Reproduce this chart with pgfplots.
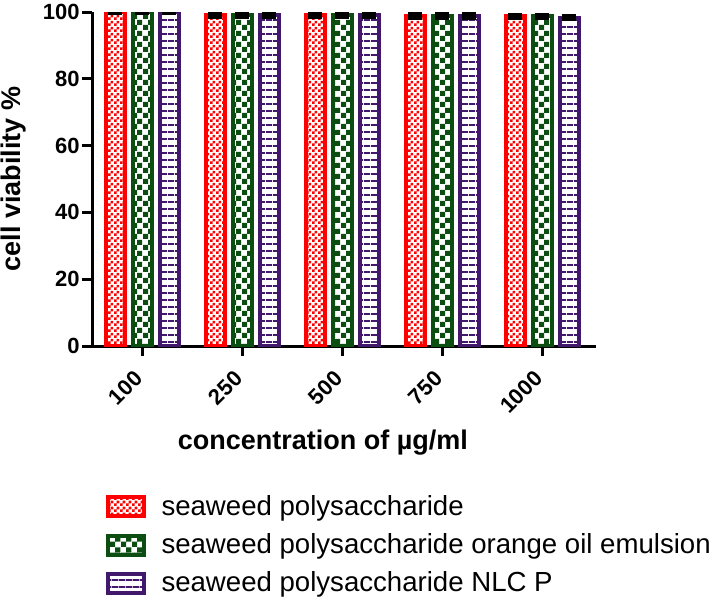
\documentclass[border=0pt]{standalone}
\usepackage{fontspec}
\setmainfont{Liberation Sans}
\usepackage{pgfplots}
\pgfplotsset{compat=1.18}
\usetikzlibrary{patterns}
\definecolor{cred}{RGB}{255,0,0}
\definecolor{cgreen}{RGB}{12,78,18}
\definecolor{cpurple}{RGB}{66,24,108}
\pgfdeclarepatternformonly{checkfine}{\pgfqpoint{0pt}{0pt}}{\pgfqpoint{3pt}{3pt}}{\pgfqpoint{3pt}{3pt}}{%
  \pgfpathrectangle{\pgfqpoint{0pt}{0pt}}{\pgfqpoint{1.5pt}{1.5pt}}%
  \pgfpathrectangle{\pgfqpoint{1.5pt}{1.5pt}}{\pgfqpoint{1.5pt}{1.5pt}}%
  \pgfusepath{fill}}
\pgfdeclarepatternformonly{checkbig}{\pgfqpoint{0pt}{0pt}}{\pgfqpoint{5.5pt}{5.5pt}}{\pgfqpoint{5.5pt}{5.5pt}}{%
  \pgfpathrectangle{\pgfqpoint{0pt}{0pt}}{\pgfqpoint{2.75pt}{2.75pt}}%
  \pgfpathrectangle{\pgfqpoint{2.75pt}{2.75pt}}{\pgfqpoint{2.75pt}{2.75pt}}%
  \pgfusepath{fill}}
\pgfdeclarepatternformonly{hstripes}{\pgfqpoint{0pt}{0pt}}{\pgfqpoint{3.5pt}{3.5pt}}{\pgfqpoint{3.5pt}{3.5pt}}{%
  \pgfpathrectangle{\pgfqpoint{0pt}{0pt}}{\pgfqpoint{3.5pt}{1pt}}%
  \pgfusepath{fill}}
\pgfplotsset{
  mybarlegend/.style={legend image code/.code={\draw[##1, line width=2pt] (1pt,-4.75pt) rectangle (19pt,4.75pt);}},
  myerr/.style={error bars/.cd, y dir=both, y explicit,
    error bar style={line width=1.5pt, black},
    error mark options={rotate=90, mark size=3.5pt, line width=2pt, black}},
}
\begin{document}
\begin{tikzpicture}
\useasboundingbox (-46pt,-127.5pt) rectangle (309pt,173pt);
\begin{axis}[
  width=252pt, height=167pt, scale only axis,
  xmin=-0.5, xmax=4.54, ymin=0, ymax=100,
  axis lines*=left,
  axis line style={line width=1.5pt},
  tick style={line width=1.5pt, black},
  major tick length=5pt, tick align=outside,
  xtick={0,1,2,3,4}, xticklabels={100,250,500,750,1000},
  ytick={0,20,40,60,80,100},
  /pgf/number format/assume math mode=true,
  tick label style={font=\bfseries\fontsize{11}{13}\selectfont},
  xticklabel style={xshift=-4.5pt, yshift=-5pt, rotate=45, anchor=north east, inner sep=1pt},
  yticklabel style={inner sep=1pt},
  xlabel={concentration of µg/ml},
  ylabel={cell viability \%},
  every axis x label/.style={at={(axis description cs:0.458,-0.29)}, anchor=center, font=\bfseries\fontsize{13.5}{16}\selectfont},
  every axis y label/.style={at={(axis description cs:-0.155,0.5)}, rotate=90, anchor=center, font=\bfseries\fontsize{13.5}{16}\selectfont},
  ybar=4pt, bar width=9.5pt,
  legend style={at={(axis description cs:0.026,-0.446)}, anchor=north west,
    draw=none, fill=none, inner sep=0pt,
    font=\fontsize{13.8}{16}\selectfont, row sep=7.6pt,
    nodes={inner sep=0pt},
    /tikz/every odd column/.append style={column sep=8pt}},
  legend cell align=left,
]
\addplot[draw=cred, line width=2pt, pattern=checkfine, pattern color=cred, mybarlegend, myerr]
  coordinates {(0,100) +- (0,0.3) (1,99.0) +- (0,0.4) (2,99.0) +- (0,0.4) (3,98.8) +- (0,0.5) (4,98.7) +- (0,0.4)};
\addplot[draw=cgreen, line width=2pt, pattern=checkbig, pattern color=cgreen, mybarlegend, myerr]
  coordinates {(0,100) +- (0,0.3) (1,99.0) +- (0,0.4) (2,99.0) +- (0,0.4) (3,98.8) +- (0,0.5) (4,98.7) +- (0,0.5)};
\addplot[draw=cpurple, line width=2pt, pattern=hstripes, pattern color=cpurple, mybarlegend, myerr]
  coordinates {(0,100) +- (0,0.3) (1,99.0) +- (0,0.4) (2,99.0) +- (0,0.4) (3,98.8) +- (0,0.5) (4,98.3) +- (0,0.5)};
\legend{seaweed polysaccharide, seaweed polysaccharide orange oil emulsion, seaweed polysaccharide NLC P}
\end{axis}
\end{tikzpicture}
\end{document}
